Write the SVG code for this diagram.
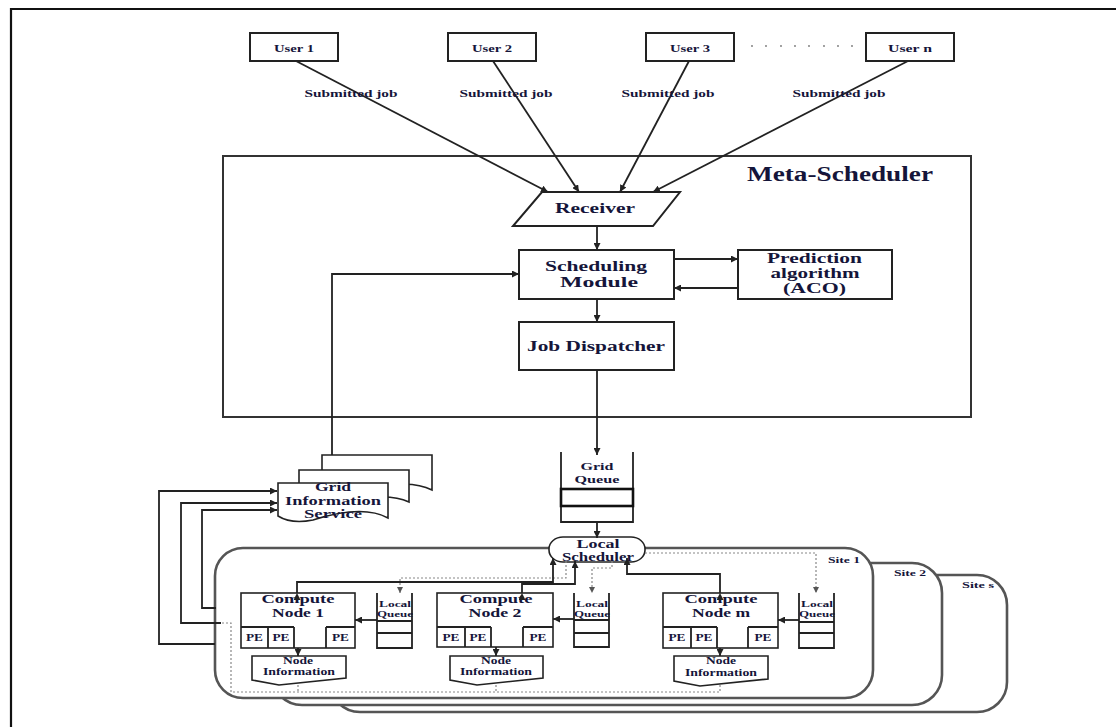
<svg xmlns="http://www.w3.org/2000/svg" width="1116" height="727" viewBox="0 0 1116 727">
  <defs>
    <marker id="ah" viewBox="0 0 10 10" refX="10" refY="5" markerWidth="7" markerHeight="7" markerUnits="userSpaceOnUse" orient="auto">
      <path d="M0,0 L10,5 L0,10 z" fill="#222"/>
    </marker>
    <marker id="ahg" viewBox="0 0 10 10" refX="10" refY="5" markerWidth="6" markerHeight="6" markerUnits="userSpaceOnUse" orient="auto">
      <path d="M0,0 L10,5 L0,10 z" fill="#555"/>
    </marker>
    <style>
      .box { fill: #fff; stroke: #222; stroke-width: 2; }
      .thin { fill: #fff; stroke: #222; stroke-width: 1.6; }
      .site { fill: #fff; stroke: #555; stroke-width: 2.6; }
      .ln { fill: none; stroke: #222; stroke-width: 1.8; }
      .dot { fill: none; stroke: #888; stroke-width: 1.2; stroke-dasharray: 2 2; }
      text { font-family: "Liberation Serif", "Times New Roman", serif; font-weight: bold; fill: #15153a; text-anchor: middle; }
      .t10 { font-size: 10px; }
      .t11 { font-size: 11px; }
      .t13 { font-size: 13px; }
      .t15 { font-size: 15px; }
      .t9 { font-size: 9px; }
    </style>
  </defs>

  <!-- page frame -->
  <path d="M11,727 V9 H1116" fill="none" stroke="#111" stroke-width="2.2"/>

  <!-- users -->
  <g id="user1"><rect class="box" x="250" y="33" width="88" height="28"/><text class="t10" x="294" y="52" textLength="40" lengthAdjust="spacingAndGlyphs">User 1</text></g>
  <g id="user2"><rect class="box" x="448" y="33" width="88" height="28"/><text class="t10" x="492" y="52" textLength="40" lengthAdjust="spacingAndGlyphs">User 2</text></g>
  <g id="user3"><rect class="box" x="646" y="33" width="88" height="28"/><text class="t10" x="690" y="52" textLength="40" lengthAdjust="spacingAndGlyphs">User 3</text></g>
  <g id="usern"><rect class="box" x="866" y="33" width="88" height="28"/><text class="t10" x="910" y="52" textLength="44" lengthAdjust="spacingAndGlyphs">User n</text></g>
  <g id="ellipsis" fill="#777">
    <circle cx="752" cy="46" r="0.9"/><circle cx="766" cy="46" r="0.9"/><circle cx="781" cy="46" r="0.9"/><circle cx="795" cy="46" r="0.9"/>
    <circle cx="809" cy="46" r="0.9"/><circle cx="824" cy="46" r="0.9"/><circle cx="838" cy="46" r="0.9"/><circle cx="852" cy="46" r="0.9"/>
  </g>

  <!-- meta-scheduler -->
  <g id="meta-scheduler">
    <rect x="223" y="156" width="748" height="261" fill="#fff" stroke="#333" stroke-width="2"/>
    <text x="840" y="181" style="font-size:20px" textLength="186" lengthAdjust="spacingAndGlyphs">Meta-Scheduler</text>
  </g>
  <g id="receiver">
    <path class="box" d="M542,192 H680 L653,226 H513 Z"/>
    <text class="t15" x="595" y="213" textLength="80" lengthAdjust="spacingAndGlyphs">Receiver</text>
  </g>
  <g id="scheduling-module">
    <rect class="box" x="519" y="250" width="155" height="49"/>
    <text class="t15" x="596" y="271" textLength="102" lengthAdjust="spacingAndGlyphs">Scheduling</text>
    <text class="t15" x="599" y="287" textLength="78" lengthAdjust="spacingAndGlyphs">Module</text>
  </g>
  <g id="prediction">
    <rect class="box" x="738" y="250" width="154" height="49"/>
    <text class="t15" x="814.5" y="263" textLength="95" lengthAdjust="spacingAndGlyphs">Prediction</text>
    <text class="t15" x="815" y="278" textLength="89" lengthAdjust="spacingAndGlyphs">algorithm</text>
    <text class="t15" x="814.5" y="293" textLength="63" lengthAdjust="spacingAndGlyphs">(ACO)</text>
  </g>
  <g id="job-dispatcher">
    <rect class="box" x="519" y="322" width="155" height="48"/>
    <text class="t15" x="596" y="351" textLength="138" lengthAdjust="spacingAndGlyphs">Job Dispatcher</text>
  </g>

  <!-- grid queue -->
  <g id="grid-queue">
    <path class="ln" d="M561,452 V522 H633 V452"/>
    <rect x="561" y="489" width="72" height="17" fill="none" stroke="#111" stroke-width="2.6"/>
    <text class="t11" x="597" y="470" textLength="33" lengthAdjust="spacingAndGlyphs">Grid</text>
    <text class="t11" x="597" y="483" textLength="45" lengthAdjust="spacingAndGlyphs">Queue</text>
  </g>

  <!-- sites -->
  <g id="site-s">
    <rect class="site" x="330" y="575" width="677" height="137" rx="30"/>
    <text class="t9" x="978" y="588" textLength="32" lengthAdjust="spacingAndGlyphs">Site s</text>
  </g>
  <g id="site-2">
    <rect class="site" x="272" y="563" width="670" height="142" rx="30"/>
    <text class="t9" x="910" y="576" textLength="32" lengthAdjust="spacingAndGlyphs">Site 2</text>
  </g>
  <g id="site-1">
    <rect class="site" x="215" y="548" width="658" height="150" rx="28"/>
    <text class="t9" x="844" y="563" textLength="32" lengthAdjust="spacingAndGlyphs">Site 1</text>
  </g>

  <!-- grid information service (stacked documents) -->
  <g id="grid-information-service">
    <path class="thin" d="M322,455 H432 V490 C412,480 382,485 357,493 C342,496 330,494 322,489 Z"/>
    <path class="thin" d="M299,470 H409 V502 C389,493 359,498 334,506 C319,509 307,507 299,502 Z"/>
    <path class="thin" d="M278,483 H388 V518 C368,507 338,512 313,520 C298,523 286,521 278,516 Z"/>
    <text class="t13" x="333" y="491" textLength="36" lengthAdjust="spacingAndGlyphs">Grid</text>
    <text class="t13" x="333" y="505" textLength="96" lengthAdjust="spacingAndGlyphs">Information</text>
    <text class="t13" x="333" y="518" textLength="58" lengthAdjust="spacingAndGlyphs">Service</text>
  </g>

  <!-- local scheduler -->
  <g id="local-scheduler">
    <rect class="thin" x="549" y="537" width="96" height="25" rx="14" ry="12"/>
    <text class="t13" x="598" y="548" textLength="43" lengthAdjust="spacingAndGlyphs">Local</text>
    <text class="t13" x="598" y="561" textLength="72" lengthAdjust="spacingAndGlyphs">Scheduler</text>
  </g>

  <!-- compute nodes -->
  <g id="compute-node-1">
    <rect class="thin" x="241" y="593" width="114" height="55"/>
    <path class="ln" d="M241,627 H268 M268,627 V648 M294,627 V648 M268,627 H294 M326,627 H355 M326,627 V648"/>
    <text class="t13" x="298" y="603" textLength="73" lengthAdjust="spacingAndGlyphs">Compute</text>
    <text class="t13" x="298" y="617" textLength="52" lengthAdjust="spacingAndGlyphs">Node 1</text>
    <text class="t10" x="254.5" y="641" textLength="17" lengthAdjust="spacingAndGlyphs">PE</text>
    <text class="t10" x="281" y="641" textLength="17" lengthAdjust="spacingAndGlyphs">PE</text>
    <text class="t10" x="340.5" y="641" textLength="17" lengthAdjust="spacingAndGlyphs">PE</text>
  </g>
  <g id="compute-node-2">
    <rect class="thin" x="437" y="593" width="116" height="54"/>
    <path class="ln" d="M437,627 H491 M465,627 V647 M491,627 V647 M523,627 H553 M523,627 V647"/>
    <text class="t13" x="496" y="603" textLength="73" lengthAdjust="spacingAndGlyphs">Compute</text>
    <text class="t13" x="495" y="617" textLength="53" lengthAdjust="spacingAndGlyphs">Node 2</text>
    <text class="t10" x="451" y="641" textLength="17" lengthAdjust="spacingAndGlyphs">PE</text>
    <text class="t10" x="478" y="641" textLength="17" lengthAdjust="spacingAndGlyphs">PE</text>
    <text class="t10" x="538" y="641" textLength="17" lengthAdjust="spacingAndGlyphs">PE</text>
  </g>
  <g id="compute-node-m">
    <rect class="thin" x="663" y="593" width="115" height="55"/>
    <path class="ln" d="M663,627 H717 M691,627 V648 M717,627 V648 M748,627 H778 M748,627 V648"/>
    <text class="t13" x="721" y="603" textLength="73" lengthAdjust="spacingAndGlyphs">Compute</text>
    <text class="t13" x="721" y="617" textLength="58" lengthAdjust="spacingAndGlyphs">Node m</text>
    <text class="t10" x="677" y="641" textLength="17" lengthAdjust="spacingAndGlyphs">PE</text>
    <text class="t10" x="704" y="641" textLength="17" lengthAdjust="spacingAndGlyphs">PE</text>
    <text class="t10" x="763" y="641" textLength="17" lengthAdjust="spacingAndGlyphs">PE</text>
  </g>

  <!-- local queues -->
  <g id="local-queue-1">
    <path class="ln" d="M377,593 V648 H412 V593 M377,621 H412 M377,633 H412"/>
    <text class="t9" x="395" y="607" textLength="32" lengthAdjust="spacingAndGlyphs">Local</text>
    <text class="t9" x="395" y="617" textLength="36" lengthAdjust="spacingAndGlyphs">Queue</text>
  </g>
  <g id="local-queue-2">
    <path class="ln" d="M574,593 V647 H609 V593 M574,620 H609 M574,633 H609"/>
    <text class="t9" x="592" y="607" textLength="32" lengthAdjust="spacingAndGlyphs">Local</text>
    <text class="t9" x="592" y="617" textLength="36" lengthAdjust="spacingAndGlyphs">Queue</text>
  </g>
  <g id="local-queue-m">
    <path class="ln" d="M799,593 V648 H834 V593 M799,622 H834 M799,633 H834"/>
    <text class="t9" x="817" y="607" textLength="32" lengthAdjust="spacingAndGlyphs">Local</text>
    <text class="t9" x="817" y="617" textLength="36" lengthAdjust="spacingAndGlyphs">Queue</text>
  </g>

  <!-- node information documents -->
  <g id="node-info-1">
    <path class="thin" d="M252,656 H346 V678 L279,685 L252,680 Z"/>
    <text class="t10" x="298" y="664" textLength="30" lengthAdjust="spacingAndGlyphs">Node</text>
    <text class="t10" x="299" y="675" textLength="72" lengthAdjust="spacingAndGlyphs">Information</text>
  </g>
  <g id="node-info-2">
    <path class="thin" d="M450,656 H543 V678 L477,685 L450,680 Z"/>
    <text class="t10" x="496" y="664" textLength="30" lengthAdjust="spacingAndGlyphs">Node</text>
    <text class="t10" x="496" y="675" textLength="72" lengthAdjust="spacingAndGlyphs">Information</text>
  </g>
  <g id="node-info-m">
    <path class="thin" d="M674,656 H768 V679 L700,686 L674,681 Z"/>
    <text class="t10" x="721" y="664" textLength="30" lengthAdjust="spacingAndGlyphs">Node</text>
    <text class="t10" x="721" y="676" textLength="72" lengthAdjust="spacingAndGlyphs">Information</text>
  </g>

  <!-- connectors -->
  <g id="connectors">
    <!-- submitted jobs -->
    <line class="ln" x1="296" y1="61" x2="548" y2="192" marker-end="url(#ah)"/>
    <line class="ln" x1="493" y1="61" x2="579" y2="192" marker-end="url(#ah)"/>
    <line class="ln" x1="689" y1="61" x2="620" y2="192" marker-end="url(#ah)"/>
    <line class="ln" x1="908" y1="61" x2="653" y2="192" marker-end="url(#ah)"/>
    <text class="t11" x="351" y="97" textLength="93" lengthAdjust="spacingAndGlyphs">Submitted job</text>
    <text class="t11" x="506" y="97" textLength="93" lengthAdjust="spacingAndGlyphs">Submitted job</text>
    <text class="t11" x="668" y="97" textLength="93" lengthAdjust="spacingAndGlyphs">Submitted job</text>
    <text class="t11" x="839" y="97" textLength="93" lengthAdjust="spacingAndGlyphs">Submitted job</text>

    <!-- inside the meta-scheduler -->
    <line class="ln" x1="597" y1="226" x2="597" y2="250" marker-end="url(#ah)"/>
    <line class="ln" x1="674" y1="259" x2="738" y2="259" marker-end="url(#ah)"/>
    <line class="ln" x1="738" y1="288" x2="674" y2="288" marker-end="url(#ah)"/>
    <line class="ln" x1="597" y1="299" x2="597" y2="322" marker-end="url(#ah)"/>
    <line class="ln" x1="597" y1="370" x2="597" y2="455" marker-end="url(#ah)"/>
    <line class="ln" x1="597" y1="522" x2="597" y2="538" marker-end="url(#ah)"/>

    <!-- grid information service to scheduling module -->
    <path class="ln" d="M332,455 V274 H519" marker-end="url(#ah)"/>

    <!-- node reports to grid information service -->
    <path class="ln" d="M215,644 H159 V491 H277" marker-end="url(#ah)"/>
    <path class="ln" d="M221,623 H181 V503 H277" marker-end="url(#ah)"/>
    <path class="ln" d="M216,608 H202 V510 H277" marker-end="url(#ah)"/>

    <!-- node information collection (dotted) -->
    <path class="dot" d="M222,623 H231 V692 H720 V685 M298,685 V692 M496,685 V692"/>

    <!-- local scheduler to compute nodes -->
    <path class="dot" d="M566,561 V578 H400 V593" marker-end="url(#ahg)"/>
    <path class="ln" d="M297,593 V582 H553 V558" marker-start="url(#ah)" marker-end="url(#ah)"/>
    <path class="ln" d="M522,593 V584 H575 V561" marker-start="url(#ah)" marker-end="url(#ah)"/>
    <path class="dot" d="M612,561 V568 H592 V593" marker-end="url(#ahg)"/>
    <path class="ln" d="M720,593 V574 H627 V558" marker-start="url(#ah)" marker-end="url(#ah)"/>
    <path class="dot" d="M645,553 H816 V593" marker-end="url(#ahg)"/>

    <!-- local queues to compute nodes -->
    <line class="ln" x1="377" y1="620" x2="355" y2="620" marker-end="url(#ah)"/>
    <line class="ln" x1="574" y1="619" x2="553" y2="619" marker-end="url(#ah)"/>
    <line class="ln" x1="799" y1="620" x2="778" y2="620" marker-end="url(#ah)"/>

    <!-- compute nodes to node information -->
    <line class="ln" x1="298" y1="648" x2="298" y2="656" marker-end="url(#ah)"/>
    <line class="ln" x1="496" y1="647" x2="496" y2="656" marker-end="url(#ah)"/>
    <line class="ln" x1="720" y1="648" x2="720" y2="656" marker-end="url(#ah)"/>
  </g>
</svg>
